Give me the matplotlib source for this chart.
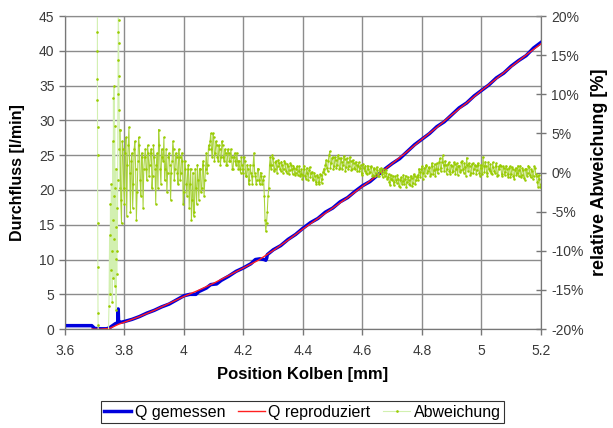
import matplotlib.pyplot as plt
import numpy as np
from matplotlib.ticker import FuncFormatter

plt.rcParams['font.family'] = ['Liberation Sans', 'DejaVu Sans']

# Durchfluss gemessen (blau) [l/min] über Position [mm]
pos_gem = [3.60, 3.65, 3.69, 3.695, 3.70, 3.72, 3.74, 3.75, 3.76, 3.77, 3.777, 3.778, 3.779,
           3.780, 3.781, 3.79, 3.80, 3.825, 3.85, 3.875, 3.90, 3.925, 3.95, 3.975, 4.00,
           4.02, 4.04, 4.05, 4.075, 4.09, 4.11, 4.125, 4.15, 4.175, 4.20, 4.225, 4.24,
           4.255, 4.27, 4.275, 4.278, 4.28, 4.30, 4.325, 4.35, 4.375, 4.40, 4.425, 4.45,
           4.475, 4.50, 4.525, 4.55, 4.575, 4.60, 4.625, 4.65, 4.675, 4.70, 4.725, 4.75,
           4.775, 4.80, 4.825, 4.85, 4.875, 4.90, 4.925, 4.95, 4.975, 5.00, 5.025, 5.05,
           5.075, 5.10, 5.125, 5.15, 5.175, 5.20]
q_gem = [0.5, 0.5, 0.5, 0.3, 0.1, 0.05, 0.05, 0.2, 0.5, 0.8, 0.9, 1.0, 2.9,
         1.2, 1.0, 1.0, 1.1, 1.4, 1.8, 2.3, 2.7, 3.2, 3.6, 4.2, 4.8,
         5.0, 5.0, 5.4, 5.9, 6.4, 6.5, 7.0, 7.6, 8.3, 8.8, 9.4, 10.0,
         10.1, 10.0, 9.9, 10.2, 10.7, 11.4, 12.0, 12.9, 13.6, 14.5, 15.3, 15.9,
         16.8, 17.4, 18.3, 18.9, 19.8, 20.6, 21.2, 22.1, 23.0, 23.8, 24.5, 25.5,
         26.5, 27.3, 28.1, 29.1, 29.8, 30.8, 31.8, 32.5, 33.5, 34.3, 35.1, 36.1,
         36.8, 37.8, 38.6, 39.3, 40.4, 41.2]

# Durchfluss reproduziert (rot)
pos_rep = [3.69, 3.72, 3.75, 3.78, 3.80, 3.85, 3.90, 3.95, 4.00, 4.05, 4.10, 4.15,
           4.20, 4.25, 4.30, 4.35, 4.40, 4.45, 4.50, 4.55, 4.60, 4.65, 4.70, 4.75,
           4.80, 4.85, 4.90, 4.95, 5.00, 5.05, 5.10, 5.15, 5.20]
q_rep = [0.0, 0.0, 0.1, 0.7, 1.0, 1.8, 2.7, 3.7, 4.7, 5.6, 6.6, 7.7,
         8.8, 9.9, 11.3, 12.8, 14.4, 15.9, 17.4, 18.9, 20.5, 22.1, 23.8, 25.5,
         27.3, 29.0, 30.8, 32.5, 34.3, 36.0, 37.7, 39.4, 41.0]

# relative Abweichung [%], Anfangsbereich (unregelmäßig)
pos_abw_anf = [3.705, 3.709, 3.709, 3.709, 3.7092, 3.7094, 3.7096, 3.710, 3.7105, 3.711,
               3.7115, 3.712, 3.748, 3.750, 3.751, 3.753, 3.754, 3.756, 3.757, 3.759,
               3.760, 3.761, 3.762, 3.763, 3.764, 3.765, 3.766, 3.767, 3.768, 3.769,
               3.770, 3.771, 3.772, 3.773, 3.774, 3.775, 3.776, 3.777, 3.778, 3.7785,
               3.779, 3.7795, 3.780, 3.7805, 3.781, 3.782, 3.783, 3.784, 3.785]
abw_anf = [90.0, 18.0, 15.5, 12.0, 9.3, 5.8, 2.2, -6.5, -12.0, -18.0,
           -19.5, -80.0, -17.0, -8.0, -15.5, -4.0, -12.5, -1.5, -10.0, -16.5,
           -6.0, 4.0, -13.5, 9.5, -3.0, 11.0, -8.5, 6.0, -14.5, -2.0,
           -11.0, 0.5, -17.5, -7.0, -13.0, -4.5, -10.0, -1.0, 10.0, 14.4,
           18.0, 60.0, 19.5, 16.5, 12.3, 8.0, 3.0, -2.0, 5.5]

# relative Abweichung [%], Hauptbereich 3.785 ... 5.2 mm, Raster 0.005 mm
abw_haupt = [
    5.5, -6.5, 3.0, -4.0, 4.5, 1.0, 5.8, -5.0, 2.5, -1.5, 4.0, -6.0, 1.5, 3.5, -3.0, 2.0, 0.5, 3.0, -1.0, 2.5,
    1.0, 3.0, -0.5, 2.0, -4.0, 2.5, 5.5, 0.5, 3.0, 1.5, -1.0, 3.0, 0.0, 2.5, -3.5, 1.5, 3.0, 0.5, 2.0, -1.5,
    2.0, 0.0, 1.5, -2.5, 0.5, -3.0, 1.0, -1.5, -6.0, 0.0, -5.0, -2.0, 1.0, -3.5, 0.5, -2.0, 1.5, -1.0, 2.5, 1.0,
    3.0, 5.0, 2.0, 4.5, 2.5, 3.5, 1.5, 3.0, 2.0, 3.5, 1.5, 2.5, 1.0, 2.5, 1.5, 2.0, 0.5, 2.5, 1.0, 1.5,
    1.5, 0.0, 1.0, 0.5, 1.5, -0.5, 0.5, -1.0, 0.0, -1.5, 2.5, -0.5, -1.0, 0.5, -1.5, -0.5, -1.0, -3.0, -7.5, -5.0,
    -2.0, 2.0, 1.0, 1.8, 0.5, 1.5, 0.8, 1.2, 0.2, 1.0, 0.5, 1.2, 0.0, 0.8, 0.3, 1.0, -0.2, 0.6, 0.0, 0.8,
    0.2, -0.5, 0.4, -0.3, 0.5, -0.8, 0.0, 0.3, -0.6, 0.1, -1.0, -0.4, -1.4, -0.6, -1.2, -0.3, -0.8, 0.5, 1.0, 0.6,
    1.5, 2.7, 1.2, 2.0, 0.8, 1.6, 1.0, 1.8, 0.6, 1.4, 1.0, 1.7, 0.7, 1.3, 0.9, 1.5, 0.5, 1.2, 0.4, 1.0,
    0.8, 0.2, 1.0, 0.0, 0.6, 0.9, -0.2, 0.5, 0.1, 0.7, -0.3, 0.4, 0.0, 0.3, -0.4, 0.2, -0.2, 0.4, -0.5, 0.0,
    -0.6, -1.2, -0.3, -1.0, -1.6, -0.5, -1.3, -0.8, -1.8, -0.6, -1.1, -1.5, -0.4, -1.2, -0.9, -1.6, -0.7, -1.3, -0.5, -1.0,
    -0.3, 0.5, -0.6, 0.8, 0.0, -0.4, 1.0, 0.2, 0.6, -0.2, 0.9, 0.3, -0.5, 1.2, 0.4, 1.8, 0.6, 2.2, 0.2, 1.0,
    0.4, 1.3, -0.2, 0.8, 0.2, 1.1, 0.5, -0.3, 0.9, 0.3, 1.5, 0.0, 0.7, 1.9, 0.2, 0.9, -0.1, 1.2, 0.4, 0.8,
    0.3, 1.0, -0.4, 0.6, 2.0, 0.1, 0.8, -0.5, 0.5, 1.1, -0.2, 0.7, 0.0, 1.2, -0.3, 0.4, 0.9, -0.5, 0.6, 0.1,
    0.5, -0.6, 0.8, -0.2, 0.4, -0.8, 0.6, 0.0, -0.5, 0.9, -0.3, 0.3, -0.9, 0.5, -0.1, 0.7, -0.6, 0.2, -0.4, 0.6,
    -0.5, -1.8, -0.8, -1.5]

# Zwischenwerte (jeweils zwischen zwei Rasterpunkten)
abw_zwischen = [
    -3.5, 4.0, -2.0, 2.5, -5.5, 3.5, 0.0, 1.5, -4.5, 3.0, 0.5, -2.5, 4.5, -1.0, 2.5, -4.5, 2.0, 0.5, 3.5, -0.5,
    2.5, -2.0, 3.5, 0.5, 1.0, -2.0, 3.5, -1.5, 2.0, 4.5, 0.5, -2.5, 2.0, 1.0, 0.0, 4.0, -1.0, 2.5, 0.0, 3.0,
    -1.0, 2.5, -4.0, 1.5, -1.5, 0.5, -4.5, 0.5, -3.5, -5.5, 0.5, -4.0, -1.0, 0.5, -2.5, 1.0, -3.0, 0.5, 0.0, 3.5,
    4.0, 3.0, 5.0, 1.5, 4.0, 2.0, 3.5, 1.0, 4.0, 2.0, 3.0, 1.0, 3.0, 1.5, 3.0, 0.5, 2.0, 1.5, 2.5, 0.5,
    0.5, 2.0, 0.0, 2.0, -0.5, 1.0, -1.5, 1.0, -0.5, 1.0, 0.0, -1.5, 0.5, -1.0, 0.0, -1.5, -0.5, -6.0, -6.5, -3.0,
    1.0, 0.5, 2.2, 0.2, 1.3, 0.0, 1.6, 0.4, 1.4, 0.0, 1.5, 0.2, 1.1, -0.2, 1.2, 0.4, 0.9, -0.3, 0.5, -0.3,
    0.8, -0.2, -0.8, 0.9, -0.4, 0.6, -0.9, 0.7, 0.0, -0.8, 0.0, -1.2, -0.3, -1.5, -0.2, -1.3, 0.1, -0.2, 1.6, 0.2,
    2.2, 0.6, 1.9, 0.4, 2.0, 0.6, 2.2, 0.4, 1.9, 0.5, 2.1, 0.2, 1.8, 0.4, 2.0, 0.3, 1.6, 0.6, 1.4, 0.2,
    1.3, 0.6, -0.3, 1.1, 0.2, -0.1, 0.9, 0.0, 0.8, -0.4, 0.6, -0.4, 0.7, -0.5, 0.5, 0.6, -0.6, 0.1, 0.3, -0.8,
    -0.2, -1.6, -0.8, -0.4, -1.2, -0.9, -0.3, -1.7, -0.9, -1.4, -0.3, -0.8, -1.9, -0.6, -1.5, -0.4, -1.7, -0.2, -1.4, -0.6,
    -1.0, 0.1, 0.4, -0.8, 0.6, 0.9, -0.1, 0.7, -0.4, 1.2, -0.2, 1.1, 0.5, -0.1, 1.3, 0.2, 1.4, 1.0, 1.5, -0.2,
    1.1, 0.2, 1.0, 0.1, 1.3, -0.2, 1.2, 0.8, 0.1, 1.4, 0.4, 1.2, -0.4, 1.0, 1.2, -0.3, 1.1, 0.0, 1.0, -0.2,
    1.2, 0.0, 1.0, -0.2, 0.9, 1.4, -0.1, 1.3, 0.2, 0.0, 1.3, 0.2, 0.9, -0.4, 0.8, 1.0, -0.2, 0.8, -0.3, 0.9,
    -0.2, 0.6, -0.6, 0.7, -0.5, 0.3, -0.3, 0.9, 0.3, -0.6, 0.6, -0.7, 0.4, -0.4, 0.9, -0.3, 0.4, -0.8, 0.8, -0.2,
    -1.2, -0.3, -1.9]

raster = np.linspace(3.785, 5.2, len(abw_haupt))
pos_band = np.empty(len(abw_haupt) + len(abw_zwischen))
abw_band = np.empty_like(pos_band)
pos_band[0::2] = raster
pos_band[1::2] = (raster[:-1] + raster[1:]) / 2
abw_band[0::2] = abw_haupt
abw_band[1::2] = abw_zwischen

x_ticks = [3.6, 3.8, 4.0, 4.2, 4.4, 4.6, 4.8, 5.0, 5.2]
x_labels = ['3.6', '3.8', '4', '4.2', '4.4', '4.6', '4.8', '5', '5.2']

grau = '#8c8c8c'
txt = '#3a3a3a'
gruen = '#99cc00'

fig = plt.figure(figsize=(6.13, 4.28), dpi=100)
ax = fig.add_axes([0.106, 0.231, 0.7765, 0.7316])
ax2 = ax.twinx()

l1, = ax.plot(pos_gem, q_gem, color='#0000dd', lw=2.5, zorder=3)
l2, = ax.plot(pos_rep, q_rep, color='#ff2020', lw=1.0, zorder=4)
# Anfang: blasse Linie, Hauptbereich: dichtes Band
l3, = ax2.plot(pos_abw_anf, abw_anf, color='#d2f0b0', lw=0.8, marker='o', ms=1.9,
               mfc=gruen, mec=gruen, mew=0)
ax2.plot(pos_band, abw_band, color='#a8d23a', lw=0.75, marker='o', ms=1.8,
         mfc=gruen, mec=gruen, mew=0)

ax.set_xlim(3.6, 5.2)
ax.set_ylim(0, 45)
ax2.set_ylim(-20, 20)
ax.set_xticks(x_ticks)
ax.set_xticklabels(x_labels)
ax.set_yticks(range(0, 46, 5))
ax2.set_yticks(range(-20, 21, 5))
ax2.yaxis.set_major_formatter(FuncFormatter(lambda v, p: f'{v:.0f}%'))

ax.grid(True, color=grau, lw=1)
ax.set_axisbelow(True)
for a in (ax, ax2):
    for s in a.spines.values():
        s.set_color('#777777')
    a.spines['top'].set_color(grau)
ax.tick_params(axis='both', colors='#777777', labelcolor=txt, labelsize=10, length=4, width=1)
ax.tick_params(axis='x', pad=7)
ax2.tick_params(axis='y', colors='#777777', labelcolor=txt, labelsize=10, length=7,
                width=1, direction='inout', pad=4)

ax.set_xlabel('Position Kolben [mm]', fontsize=12, fontweight='bold', labelpad=6)
ax.set_ylabel('Durchfluss [l/min]', fontsize=11.5, fontweight='bold', labelpad=10)
ax2.set_ylabel('relative Abweichung [%]', fontsize=13, fontweight='bold', labelpad=5)

leg = fig.legend([l1, l2, l3], ['Q gemessen', 'Q reproduziert', 'Abweichung'],
                 loc='center', bbox_to_anchor=(0.4935, 0.037), ncol=3, fontsize=11.5,
                 frameon=True, fancybox=False, edgecolor='black', handlelength=1.7,
                 columnspacing=0.8, handletextpad=0.2, borderpad=0.2, borderaxespad=0)
leg.get_frame().set_linewidth(0.8)

fig.savefig('out.png', dpi=100)
